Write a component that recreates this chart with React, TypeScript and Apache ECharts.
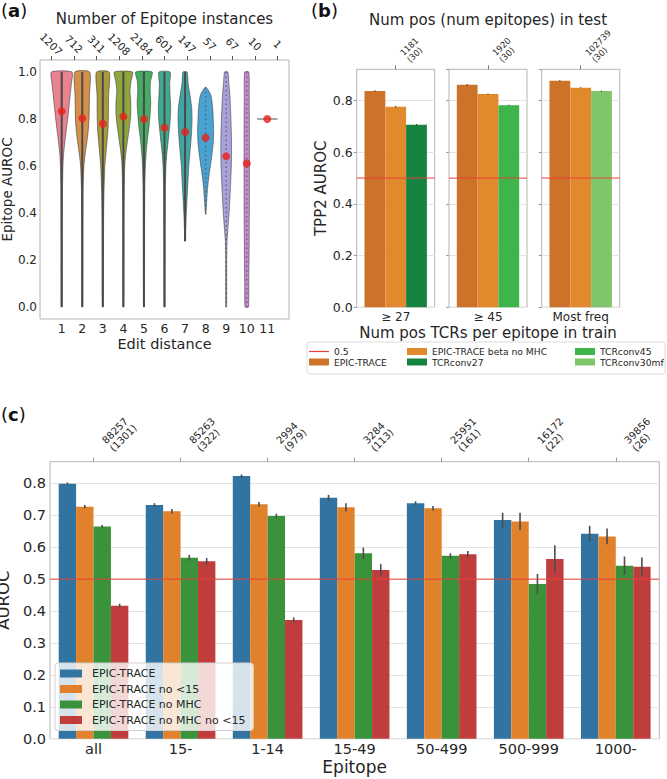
import React, { useEffect, useRef } from "react";
import * as echarts from "echarts";

// ---------- Panel (a) ----------
const editDistances = [1, 2, 3, 4, 5, 6, 7, 8, 9, 10, 11];
const epitopeInstances = ["1207", "712", "311", "1208", "2184", "601", "147", "57", "67", "10", "1"];
const meanAuroc = [0.833, 0.803, 0.78, 0.81, 0.799, 0.763, 0.745, 0.72, 0.641, 0.611, 0.8];
const aurocRange = [
  [0, 1], [0, 1], [0, 1], [0, 1], [0, 1], [0, 1], [0.28, 1], [0.395, 0.935], [0, 1], [0, 1], [0.8, 0.8],
];
// violin half-widths: [auroc, half width in edit-distance units]
const violinProfiles: number[][][] = [
  [[1, 0.5], [0.95, 0.47], [0.9, 0.41], [0.85, 0.35], [0.8, 0.29], [0.75, 0.22], [0.7, 0.15], [0.65, 0.09], [0.6, 0.06], [0.5, 0.04], [0.3, 0.03], [0, 0.025]],
  [[1, 0.36], [0.9, 0.35], [0.8, 0.33], [0.75, 0.29], [0.7, 0.22], [0.65, 0.14], [0.6, 0.08], [0.5, 0.04], [0.3, 0.03], [0, 0.02]],
  [[1, 0.31], [0.9, 0.28], [0.8, 0.27], [0.75, 0.25], [0.7, 0.2], [0.65, 0.15], [0.6, 0.1], [0.5, 0.06], [0.4, 0.04], [0.2, 0.03], [0, 0.02]],
  [[1, 0.44], [0.96, 0.37], [0.92, 0.32], [0.87, 0.36], [0.82, 0.36], [0.77, 0.3], [0.72, 0.22], [0.67, 0.14], [0.62, 0.08], [0.55, 0.05], [0.4, 0.03], [0, 0.02]],
  [[1, 0.4], [0.96, 0.32], [0.92, 0.3], [0.87, 0.33], [0.82, 0.3], [0.77, 0.25], [0.72, 0.18], [0.67, 0.12], [0.6, 0.07], [0.5, 0.04], [0.3, 0.03], [0, 0.02]],
  [[1, 0.27], [0.95, 0.25], [0.9, 0.27], [0.85, 0.3], [0.8, 0.28], [0.75, 0.23], [0.7, 0.17], [0.65, 0.11], [0.6, 0.07], [0.5, 0.04], [0.3, 0.03], [0, 0.02]],
  [[1, 0.1], [0.95, 0.15], [0.9, 0.24], [0.85, 0.32], [0.8, 0.34], [0.75, 0.32], [0.7, 0.28], [0.65, 0.23], [0.6, 0.18], [0.55, 0.15], [0.5, 0.12], [0.45, 0.09], [0.4, 0.06], [0.33, 0.03], [0.28, 0.01]],
  [[0.935, 0.02], [0.92, 0.15], [0.9, 0.26], [0.85, 0.34], [0.8, 0.37], [0.75, 0.39], [0.7, 0.37], [0.65, 0.31], [0.6, 0.23], [0.55, 0.15], [0.5, 0.09], [0.45, 0.05], [0.395, 0.01]],
  [[1, 0.08], [0.95, 0.13], [0.9, 0.18], [0.8, 0.23], [0.7, 0.26], [0.6, 0.25], [0.5, 0.2], [0.4, 0.14], [0.33, 0.08], [0.28, 0.04], [0.2, 0.025], [0, 0.02]],
  [[1, 0.1], [0.9, 0.12], [0.7, 0.13], [0.5, 0.13], [0.3, 0.12], [0.1, 0.1], [0, 0.08]],
  [[0.8, 0.5]],
];
const aTickValues = [0, 0.2, 0.4, 0.6, 0.8, 1.0];
const violinColors = ["#e8838f", "#d4904a", "#a99b3d", "#8ea63c", "#44ad62", "#3eaa8e", "#3fa6a8", "#48a2d2", "#a8a2dc", "#c88bd3", "#888888"];

// ---------- Panel (b) ----------
const trainBins = ["≥ 27", "≥ 45", "Most freq"];
const testCounts = ["1181\n(30)", "1920\n(30)", "102739\n(30)"];
const bEpicTrace = [0.837, 0.861, 0.877];
const bEpicTraceBeta = [0.776, 0.825, 0.85];
const bTcrconv = [0.706, 0.782, 0.837];
const bTcrconvNames = ["TCRconv27", "TCRconv45", "TCRconv30mf"];
const bErrEpic = [0.003, 0.003, 0.002];
const bErrBeta = [0.003, 0.002, 0.002];
const bErrTcr = [0.003, 0.002, 0.002];
const bYMax = 0.921;
const chanceLevel = 0.5;

// ---------- Panel (c) ----------
const epitopeGroups = ["all", "15-", "1-14", "15-49", "50-499", "500-999", "1000-"];
const groupCounts = ["88257\n(1301)", "85263\n(322)", "2994\n(979)", "3284\n(113)", "25951\n(161)", "16172\n(22)", "39856\n(26)"];
const cNames = ["EPIC-TRACE", "EPIC-TRACE no <15", "EPIC-TRACE no MHC", "EPIC-TRACE no MHC no <15"];
const cEpicTrace = [0.799, 0.732, 0.823, 0.755, 0.738, 0.685, 0.642];
const cNo15 = [0.727, 0.713, 0.735, 0.725, 0.722, 0.681, 0.634];
const cNoMhc = [0.665, 0.567, 0.698, 0.581, 0.573, 0.485, 0.542];
const cNoMhcNo15 = [0.417, 0.556, 0.372, 0.529, 0.578, 0.563, 0.539];
const cErrEpicTrace = [0.004, 0.006, 0.005, 0.009, 0.006, 0.023, 0.025];
const cErrNo15 = [0.005, 0.007, 0.007, 0.013, 0.007, 0.027, 0.025];
const cErrNoMhc = [0.005, 0.009, 0.007, 0.018, 0.008, 0.031, 0.029];
const cErrNoMhcNo15 = [0.006, 0.01, 0.008, 0.018, 0.01, 0.043, 0.029];
const cYMax = 0.868;

const FONT = "DejaVu Sans";
const TXT = "#262626";
const RED = "#e8413a";

const bColors: Record<string, string> = {
  "EPIC-TRACE": "#cc7229",
  "EPIC-TRACE beta no MHC": "#e08a2d",
  TCRconv27: "#178341",
  TCRconv45: "#3db54b",
  TCRconv30mf: "#7fc66b",
};
const cColors = ["#3274a1", "#e1812c", "#3a923a", "#c03d3e"];

const errorBarRender = (nHue: number, width: number, color: string) => (params: any, api: any) => {
  const cat = api.value(0);
  const v = api.value(1);
  const e = api.value(2);
  const h = api.value(3);
  const band = api.size([1, 0])[0];
  const bw = (band * 0.8) / nHue;
  const dx = (h - (nHue - 1) / 2) * bw;
  const p1 = api.coord([cat, v - e]);
  const p2 = api.coord([cat, v + e]);
  return {
    type: "line",
    shape: { x1: p1[0] + dx, y1: p1[1], x2: p2[0] + dx, y2: p2[1] },
    style: { stroke: color, lineWidth: width },
  };
};

// rotated count labels above a panel (anchored at the category's top edge)
const topLabelRender = (labels: string[], dx: number, dy: number, fontSize: number, lineHeight: number) =>
  (params: any, api: any) => {
    const p = api.coord([api.value(0), api.value(1)]);
    return {
      type: "text",
      x: p[0] + dx,
      y: p[1] - dy,
      rotation: Math.PI / 4,
      style: {
        text: labels[params.dataIndex],
        align: "left",
        verticalAlign: "bottom",
        fontSize,
        lineHeight,
        fontFamily: FONT,
        fill: TXT,
      },
    };
  };

const violinRender = (params: any, api: any) => {
  const i = params.dataIndex;
  const x = api.value(0);
  const prof = violinProfiles[i];
  if (prof.length === 1) {
    const p1 = api.coord([x - prof[0][1], prof[0][0]]);
    const p2 = api.coord([x + prof[0][1], prof[0][0]]);
    return {
      type: "line",
      shape: { x1: p1[0], y1: p1[1], x2: p2[0], y2: p2[1] },
      style: { stroke: "#8a8a8a", lineWidth: 1.5 },
    };
  }
  const right = prof.map(([y, w]) => api.coord([x + w, y]));
  const left = prof.slice().reverse().map(([y, w]) => api.coord([x - w, y]));
  const [lo, hi] = aurocRange[i];
  const top = api.coord([x, hi]);
  const bot = api.coord([x, lo]);
  const solid = i < 7;
  return {
    type: "group",
    children: [
      {
        type: "polygon",
        shape: { points: right.concat(left), smooth: 0.2 },
        style: { fill: violinColors[i], stroke: "#404040", lineWidth: 0.6 },
      },
      {
        type: "line",
        shape: { x1: top[0], y1: top[1], x2: bot[0], y2: bot[1] },
        style: solid
          ? { stroke: "#4a4a4a", lineWidth: 2 }
          : { stroke: "#5a5a5a", lineWidth: 1.2, lineDash: [1.5, 3] },
      },
    ],
  };
};

function buildOption(): any {
  const grids: any[] = [];
  const xAxes: any[] = [];
  const yAxes: any[] = [];
  const series: any[] = [];
  const border = { show: true, borderColor: "#b3b3b3", borderWidth: 1, backgroundColor: "transparent" };
  const hiddenX = (gi: number) => ({
    gridIndex: gi, type: "value", min: 0, max: 1, show: false,
    axisLine: { show: false }, axisTick: { show: false }, axisLabel: { show: false }, splitLine: { show: false },
  });

  // ---- (a) ----
  grids.push({ left: 40, top: 60, width: 249, height: 259, ...border, containLabel: false, outerBoundsMode: "none" });
  xAxes.push({
    gridIndex: 0, type: "value", position: "bottom", min: -0.055, max: 12.055,
    axisLine: { show: false }, axisTick: { show: false }, splitLine: { show: false },
    axisLabel: { customValues: editDistances, fontSize: 12.5, color: TXT, margin: 3, fontFamily: FONT },
    name: "Edit distance", nameLocation: "middle", nameGap: 17,
    nameTextStyle: { fontSize: 14.5, color: TXT, fontFamily: FONT },
  });
  xAxes.push({
    gridIndex: 0, type: "category", position: "top", data: epitopeInstances, boundaryGap: true,
    axisLine: { show: false },
    axisTick: { show: true, alignWithLabel: true, length: 4, lineStyle: { color: "#555" } },
    axisLabel: { interval: 0, rotate: 45, fontSize: 10.5, color: TXT, margin: 16, align: "center", verticalAlign: "middle", fontFamily: FONT },
    splitLine: { show: false },
    name: "Number of Epitope instances", nameLocation: "middle", nameGap: 34,
    nameTextStyle: { fontSize: 15, color: TXT, fontFamily: FONT },
  });
  yAxes.push({
    gridIndex: 0, type: "value", min: -0.051, max: 1.051,
    axisLine: { show: false }, axisTick: { show: false }, splitLine: { show: false },
    axisLabel: { customValues: aTickValues, formatter: (v: number) => v.toFixed(1), fontSize: 12, color: TXT, margin: 3, fontFamily: FONT },
    name: "Epitope AUROC", nameLocation: "middle", nameGap: 19,
    nameTextStyle: { fontSize: 13.5, color: TXT, fontFamily: FONT },
  });
  series.push({
    type: "custom", name: "violins", xAxisIndex: 0, yAxisIndex: 0,
    data: editDistances.map((d, i) => [d, meanAuroc[i]]),
    encode: { x: 0, y: 1 },
    renderItem: violinRender, silent: true, z: 2,
  });
  series.push({
    type: "scatter", name: "mean", xAxisIndex: 0, yAxisIndex: 0,
    data: editDistances.map((d, i) => [d, meanAuroc[i]]),
    symbolSize: 8, itemStyle: { color: "#e8221c" }, z: 5, silent: true,
  });

  // ---- (b) ----
  const bLefts = [356.7, 449, 541.7];
  for (let g = 0; g < 3; g++) {
    const gi = grids.length;
    grids.push({ left: bLefts[g], top: 69.3, width: 78, height: 238, ...border, containLabel: false, outerBoundsMode: "none" });
    const xb = xAxes.length;
    xAxes.push({
      gridIndex: gi, type: "category", position: "bottom", data: [trainBins[g]],
      axisLine: { show: false }, axisTick: { show: false },
      axisLabel: { fontSize: 12, color: TXT, margin: 4, fontFamily: FONT },
      ...(g === 1
        ? { name: "Num pos TCRs per epitope in train", nameLocation: "middle", nameGap: 18, nameTextStyle: { fontSize: 15, color: TXT, fontFamily: FONT } }
        : {}),
    });
    xAxes.push({
      gridIndex: gi, type: "category", position: "top", data: [testCounts[g]],
      axisLine: { show: false },
      axisTick: { show: true, alignWithLabel: true, length: 4, lineStyle: { color: "#777" } },
      axisLabel: { show: false },
      ...(g === 1
        ? { name: "Num pos (num epitopes) in test", nameLocation: "middle", nameGap: 42, nameTextStyle: { fontSize: 15, color: TXT, fontFamily: FONT } }
        : {}),
    });
    const xh = xAxes.length;
    xAxes.push(hiddenX(gi));
    const yb = yAxes.length;
    yAxes.push({
      gridIndex: gi, type: "value", min: 0, max: bYMax, interval: 0.2,
      axisLine: { show: false },
      axisTick: { show: true, length: 3, lineStyle: { color: "#999" } },
      splitLine: { show: true, showMaxLine: false, lineStyle: { color: "#e3e3e3", width: 1 } },
      axisLabel: { show: g === 0, showMaxLabel: false, formatter: (v: number) => v.toFixed(1), fontSize: 12.5, color: TXT, margin: 4, fontFamily: FONT },
      ...(g === 0
        ? { name: "TPP2 AUROC", nameLocation: "middle", nameGap: 27, nameTextStyle: { fontSize: 15, color: TXT, fontFamily: FONT } }
        : {}),
    });
    const barNames = ["EPIC-TRACE", "EPIC-TRACE beta no MHC", bTcrconvNames[g]];
    const vals = [bEpicTrace[g], bEpicTraceBeta[g], bTcrconv[g]];
    const errs = [bErrEpic[g], bErrBeta[g], bErrTcr[g]];
    barNames.forEach((nm, h) => {
      series.push({
        type: "bar", name: nm, xAxisIndex: xb, yAxisIndex: yb,
        data: [vals[h]], barGap: "0%", barCategoryGap: "20%",
        itemStyle: { color: bColors[nm] }, silent: true, z: 2,
      });
    });
    series.push({
      type: "custom", name: "errB" + g, xAxisIndex: xb, yAxisIndex: yb,
      data: vals.map((v, h) => [0, v, errs[h], h]),
      encode: { x: 0, y: 1 },
      renderItem: errorBarRender(3, 1, "#333"), silent: true, z: 3,
    });
    series.push({
      type: "custom", name: "countsB" + g, xAxisIndex: xb, yAxisIndex: yb,
      data: [[0, bYMax]], encode: { x: 0, y: 1 }, clip: false,
      renderItem: topLabelRender([testCounts[g]], 16, 5, 8.5, 9.5), silent: true, z: 6,
    });
    series.push({
      type: "line", name: "0.5", xAxisIndex: xh, yAxisIndex: yb,
      data: [[0, chanceLevel], [1, chanceLevel]], symbol: "none", showSymbol: false,
      color: RED,
      lineStyle: { color: RED, width: 1 }, itemStyle: { color: RED }, z: 4, silent: true,
    });
  }

  // ---- (c) ----
  const gc = grids.length;
  grids.push({ left: 50, top: 461.7, width: 609.3, height: 277, ...border, containLabel: false, outerBoundsMode: "none" });
  const xc = xAxes.length;
  xAxes.push({
    gridIndex: gc, type: "category", position: "bottom", data: epitopeGroups,
    axisLine: { show: false }, axisTick: { show: false },
    axisLabel: { interval: 0, fontSize: 14.5, color: TXT, margin: 3, fontFamily: FONT },
    name: "Epitope", nameLocation: "middle", nameGap: 20,
    nameTextStyle: { fontSize: 17, color: TXT, fontFamily: FONT },
  });
  xAxes.push({
    gridIndex: gc, type: "category", position: "top", data: groupCounts,
    axisLine: { show: false },
    axisTick: { show: true, alignWithLabel: true, length: 4, lineStyle: { color: "#999" } },
    axisLabel: { show: false },
  });
  const xch = xAxes.length;
  xAxes.push(hiddenX(gc));
  const yc = yAxes.length;
  yAxes.push({
    gridIndex: gc, type: "value", min: 0, max: cYMax, interval: 0.1,
    axisLine: { show: false }, axisTick: { show: false },
    splitLine: { show: true, showMaxLine: false, lineStyle: { color: "#e3e3e3", width: 1 } },
    axisLabel: { showMaxLabel: false, formatter: (v: number) => v.toFixed(1), fontSize: 14.5, color: TXT, margin: 4, fontFamily: FONT },
    name: "AUROC", nameLocation: "middle", nameGap: 25,
    nameTextStyle: { fontSize: 16.5, color: TXT, fontFamily: FONT },
  });
  const cVals = [cEpicTrace, cNo15, cNoMhc, cNoMhcNo15];
  const cErrs = [cErrEpicTrace, cErrNo15, cErrNoMhc, cErrNoMhcNo15];
  cNames.forEach((nm, h) => {
    series.push({
      type: "bar", name: nm, xAxisIndex: xc, yAxisIndex: yc,
      data: cVals[h], barGap: "0%", barCategoryGap: "20%",
      itemStyle: { color: cColors[h] }, silent: true, z: 2,
    });
  });
  const errData: number[][] = [];
  cVals.forEach((arr, h) => arr.forEach((v, k) => errData.push([k, v, cErrs[h][k], h])));
  series.push({
    type: "custom", name: "errC", xAxisIndex: xc, yAxisIndex: yc,
    data: errData, encode: { x: 0, y: 1 },
    renderItem: errorBarRender(4, 1.6, "#4d4d4d"), silent: true, z: 3,
  });
  series.push({
    type: "custom", name: "countsC", xAxisIndex: xc, yAxisIndex: yc,
    data: groupCounts.map((_, k) => [k, cYMax]), encode: { x: 0, y: 1 }, clip: false,
    renderItem: topLabelRender(groupCounts, 22, 8, 10, 11), silent: true, z: 6,
  });
  series.push({
    type: "line", name: "chance", xAxisIndex: xch, yAxisIndex: yc,
    data: [[0, chanceLevel], [1, chanceLevel]], symbol: "none", showSymbol: false,
    lineStyle: { color: RED, width: 1 }, itemStyle: { color: RED }, z: 4, silent: true,
  });

  const legendText = { fontFamily: FONT, color: TXT };
  const bLegendBase = {
    orient: "vertical", top: 347, itemWidth: 20, itemHeight: 7, itemGap: 1.5, icon: "rect",
    textStyle: { ...legendText, fontSize: 9.2 }, selectedMode: false, padding: 0,
  };
  const legends = [
    {
      ...bLegendBase, left: 309,
      data: [
        { name: "0.5", icon: "path://M0,3 L20,3 L20,4.2 L0,4.2 Z", itemStyle: { color: RED, borderWidth: 0 } },
        { name: "EPIC-TRACE", itemStyle: { color: bColors["EPIC-TRACE"] } },
      ],
    },
    { ...bLegendBase, left: 407, data: ["EPIC-TRACE beta no MHC", "TCRconv27"] },
    { ...bLegendBase, left: 575, data: ["TCRconv45", "TCRconv30mf"] },
    {
      data: cNames.map((n, h) => ({ name: n, itemStyle: { color: cColors[h] } })),
      orient: "vertical", left: 55, top: 663,
      itemWidth: 22, itemHeight: 8, itemGap: 4.5, icon: "rect",
      textStyle: { ...legendText, fontSize: 11, padding: [0, 0, 0, 5] },
      backgroundColor: "rgba(255,255,255,0.8)", borderColor: "#d0d0d0", borderWidth: 1, borderRadius: 3,
      padding: [5, 8, 5, 5], selectedMode: false, z: 10,
    },
  ];

  const letter = (ch: string, x: number, y: number) => ({
    type: "text", left: x, top: y, silent: true,
    style: {
      text: "{n|(}{b|" + ch + "}{n|)}",
      rich: {
        n: { fontSize: 18, fontFamily: FONT, fill: "#111" },
        b: { fontSize: 18, fontFamily: FONT, fontWeight: "bold", fill: "#111" },
      },
    },
  });

  return {
    animation: false,
    backgroundColor: "#ffffff",
    textStyle: { fontFamily: FONT },
    grid: grids,
    xAxis: xAxes,
    yAxis: yAxes,
    series,
    legend: legends,
    graphic: [
      letter("a", 1, 1),
      letter("b", 311, 1),
      letter("c", 1, 405),
      {
        type: "rect", silent: true, z: -1,
        shape: { x: 307, y: 342, width: 358, height: 32, r: 3 },
        style: { fill: "#ffffff", stroke: "#dcdcdc", lineWidth: 1 },
      },
    ],
  };
}

export default function App() {
  const ref = useRef<HTMLDivElement>(null);
  useEffect(() => {
    document.body.style.margin = "0";
    if (!ref.current) return;
    const chart = echarts.init(ref.current, undefined, { renderer: "svg" });
    chart.setOption(buildOption());
    return () => chart.dispose();
  }, []);
  return <div ref={ref} style={{ width: 667, height: 779 }} />;
}
